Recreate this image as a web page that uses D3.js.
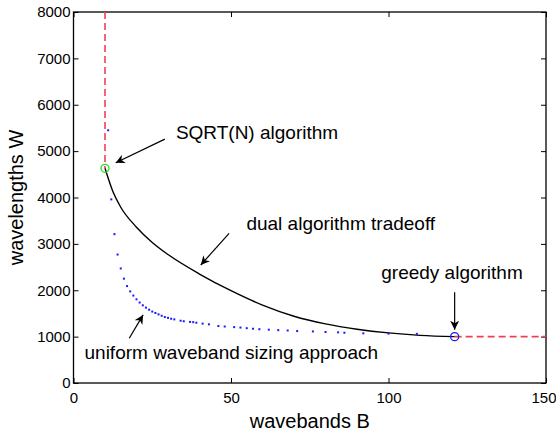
<!DOCTYPE html>
<html>
<head>
<meta charset="utf-8">
<script src="https://cdn.jsdelivr.net/npm/d3@7"></script>
<style>
  body { margin: 0; background: #fff; }
  text { font-family: "Liberation Sans", Arial, Helvetica, sans-serif; fill: #000; }
</style>
</head>
<body>
<div id="viz"></div>
<script>
const width = 556;
const height = 436;

// uniform waveband sizing approach (blue dots)
const uniformB = [11,12,13,14,15,16,17,18,19,20,21,22,23,24,25,26,27,28,29,30,31,32,34,35,37,38,39,41,43,46,48,51,53,55,57,59,62,65,68,71,76,80,84,86,92,100,109];
const uniformW = [5450,3960,3210,2770,2470,2250,2090,1975,1885,1805,1735,1675,1625,1580,1540,1510,1480,1450,1422,1405,1386,1372,1343,1332,1317,1312,1300,1280,1265,1228,1218,1205,1195,1182,1170,1160,1150,1140,1132,1120,1112,1100,1092,1084,1071,1064,1060];

// dual algorithm tradeoff (black curve)
const dualB = [10,12.5,15,20,25,30,40,50,60,70,80,90,100,110,121];
const dualW = [4630,4130,3790,3360,3030,2770,2350,1990,1680,1440,1275,1160,1080,1028,1000];

// end points
const sqrtPoint = {B: 10, W: 4630};
const greedyPoint = {B: 121, W: 1000};

const xTicks = [0, 50, 100, 150];
const yTicks = [0,1000,2000,3000,4000,5000,6000,7000,8000];

// annotations: text anchor + arrow (from -> to), data units
const notes = [
  {label: "SQRT(N) algorithm", tx: 32.5, ty: 5272, x1: 29.0, y1: 5259, x2: 13.4, y2: 4750},
  {label: "dual algorithm tradeoff", tx: 54.9, ty: 3300, x1: 49.4, y1: 3228, x2: 40.4, y2: 2545},
  {label: "greedy algorithm", tx: 97.7, ty: 2240, x1: 121, y1: 1957, x2: 121, y2: 1150},
  {label: "uniform waveband sizing approach", tx: 3.5, ty: 519, x1: 17.7, y1: 966, x2: 22.1, y2: 1468}
];

const x = d3.scaleLinear().domain([0, 150]).range([73.5, 546]);
const y = d3.scaleLinear().domain([0, 8000]).range([383, 12]);

const svg = d3.select("#viz").append("svg")
    .attr("width", width)
    .attr("height", height);

svg.append("defs").append("marker")
    .attr("id", "arrow")
    .attr("viewBox", "0 0 10 10")
    .attr("refX", 10)
    .attr("refY", 5)
    .attr("markerWidth", 9)
    .attr("markerHeight", 9)
    .attr("markerUnits", "userSpaceOnUse")
    .attr("orient", "auto")
  .append("path")
    .attr("d", "M0,0 L10,5 L0,10 L3,5 Z")
    .attr("fill", "#000");

// box
svg.append("rect")
    .attr("x", x(0)).attr("y", y(8000))
    .attr("width", x(150) - x(0)).attr("height", y(0) - y(8000))
    .attr("fill", "none").attr("stroke", "#000").attr("stroke-width", 1.3);

// axes with inward ticks
const axB = svg.append("g").attr("transform", `translate(0,${y(0)})`)
    .call(d3.axisBottom(x).tickValues(xTicks).tickSize(-5).tickPadding(9).tickFormat(d3.format("d")));
const axT = svg.append("g").attr("transform", `translate(0,${y(8000)})`)
    .call(d3.axisTop(x).tickValues(xTicks).tickSize(-5).tickFormat(""));
const axL = svg.append("g").attr("transform", `translate(${x(0)},0)`)
    .call(d3.axisLeft(y).tickValues(yTicks).tickSize(-5).tickPadding(3).tickFormat(d3.format("d")));
const axR = svg.append("g").attr("transform", `translate(${x(150)},0)`)
    .call(d3.axisRight(y).tickValues(yTicks).tickSize(-5).tickFormat(""));

[axB, axT, axL, axR].forEach(g => {
  g.select(".domain").remove();
  g.selectAll("line").attr("stroke", "#000").attr("stroke-width", 1);
  g.selectAll("text").style("font-size", "15px").style("font-family", "Liberation Sans, Arial, sans-serif").attr("fill", "#000");
});
// keep the last x label inside the window
axB.selectAll(".tick text").filter(d => d === 150).attr("text-anchor", "end").attr("dx", "10px");

// red dashed limits
svg.append("line")
    .attr("x1", x(sqrtPoint.B)).attr("x2", x(sqrtPoint.B))
    .attr("y1", y(8000)).attr("y2", y(sqrtPoint.W))
    .attr("stroke", "#f0404f").attr("stroke-width", 1.6).attr("stroke-dasharray", "7,4");
svg.append("line")
    .attr("x1", x(greedyPoint.B)).attr("x2", x(150))
    .attr("y1", y(greedyPoint.W)).attr("y2", y(greedyPoint.W))
    .attr("stroke", "#f0404f").attr("stroke-width", 1.6).attr("stroke-dasharray", "7,4");

// dual curve
const dualData = dualB.map((b, i) => ({B: b, W: dualW[i]}));
svg.append("path")
    .datum(dualData)
    .attr("fill", "none")
    .attr("stroke", "#000")
    .attr("stroke-width", 1.4)
    .attr("d", d3.line().x(d => x(d.B)).y(d => y(d.W)).curve(d3.curveMonotoneX));

// uniform dots
const uniData = uniformB.map((b, i) => ({B: b, W: uniformW[i]}));
svg.append("g").selectAll("rect")
    .data(uniData)
    .join("rect")
    .attr("x", d => x(d.B) - 1)
    .attr("y", d => y(d.W) - 1)
    .attr("width", 2)
    .attr("height", 2)
    .attr("fill", "#1a1aff");

// end point circles
svg.append("circle")
    .attr("cx", x(sqrtPoint.B)).attr("cy", y(sqrtPoint.W)).attr("r", 4)
    .attr("fill", "none").attr("stroke", "#22dd22").attr("stroke-width", 1.3);
svg.append("circle")
    .attr("cx", x(greedyPoint.B)).attr("cy", y(greedyPoint.W)).attr("r", 4)
    .attr("fill", "none").attr("stroke", "#1a1aff").attr("stroke-width", 1.3);

// annotations
const ann = svg.append("g");
ann.selectAll("line")
    .data(notes)
    .join("line")
    .attr("x1", d => x(d.x1)).attr("y1", d => y(d.y1))
    .attr("x2", d => x(d.x2)).attr("y2", d => y(d.y2))
    .attr("stroke", "#000").attr("stroke-width", 1.2)
    .attr("marker-end", "url(#arrow)");
ann.selectAll("text")
    .data(notes)
    .join("text")
    .attr("x", d => x(d.tx)).attr("y", d => y(d.ty))
    .style("font-size", "19px")
    .text(d => d.label);

// axis labels
svg.append("text")
    .attr("x", (x(0) + x(150)) / 2)
    .attr("y", 428)
    .attr("text-anchor", "middle")
    .style("font-size", "20px")
    .text("wavebands B");
svg.append("text")
    .attr("transform", `translate(23,${(y(0) + y(8000)) / 2}) rotate(-90)`)
    .attr("text-anchor", "middle")
    .style("font-size", "20px")
    .text("wavelengths W");
</script>
</body>
</html>
